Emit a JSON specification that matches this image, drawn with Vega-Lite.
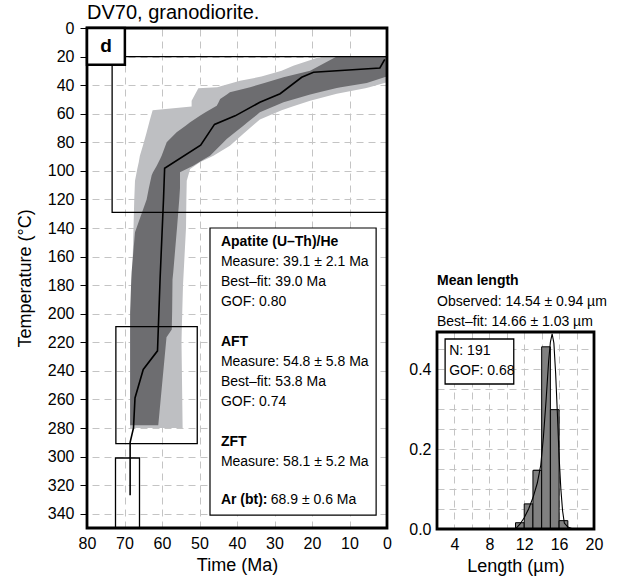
{
  "$schema": "https://vega.github.io/schema/vega-lite/v6.json",
  "padding": {"left": 16, "top": 3, "right": 5, "bottom": 3},
  "bounds": "flush",
  "spacing": 50,
  "config": {
    "font": "Liberation Sans",
    "view": {"stroke": null},
    "axis": {
      "domain": false,
      "labelOverlap": false,
      "labelFlush": false,
      "gridColor": "#c4c4c4",
      "gridDash": [7, 5],
      "gridWidth": 1,
      "labelColor": "black",
      "labelFontSize": 16,
      "titleFontSize": 18,
      "titleFontWeight": "normal",
      "titleColor": "black",
      "tickColor": "black"
    }
  },
  "datasets": {
    "acc": [
      {"T": 20, "L": 15, "R": 0}, {"T": 21, "L": 18.75, "R": 0}, {"T": 26.4, "L": 25, "R": 0},
      {"T": 30, "L": 28.1, "R": 0}, {"T": 34, "L": 33.5, "R": 0}, {"T": 37, "L": 39.2, "R": 0},
      {"T": 38, "L": 40.6, "R": 0}, {"T": 41.5, "L": 45.3, "R": 4.7}, {"T": 42.2, "L": 50.3, "R": 5.8},
      {"T": 46, "L": 51.1, "R": 13.4}, {"T": 51, "L": 52.1, "R": 20.5}, {"T": 55, "L": 52.1, "R": 25.2},
      {"T": 57.5, "L": 62.5, "R": 28.1}, {"T": 64, "L": 63.2, "R": 33.9}, {"T": 74, "L": 64.2, "R": 38.3},
      {"T": 82.4, "L": 65.1, "R": 41.9}, {"T": 89.4, "L": 65.9, "R": 46.3}, {"T": 94, "L": 66.2, "R": 49.9},
      {"T": 98.7, "L": 66.6, "R": 52.5}, {"T": 107, "L": 67.2, "R": 53.4}, {"T": 120, "L": 67.4, "R": 53.5},
      {"T": 140, "L": 67.6, "R": 53.6}, {"T": 180, "L": 68.0, "R": 54.4}, {"T": 208, "L": 68.5, "R": 54.7},
      {"T": 220, "L": 68.5, "R": 54.8}, {"T": 280, "L": 68.5, "R": 54.5}
    ],
    "good": [
      {"T": 20, "L": 13.4, "R": 0}, {"T": 29.9, "L": 20.5, "R": 0}, {"T": 34, "L": 26.8, "R": 0},
      {"T": 34.5, "L": 27.6, "R": 0.7}, {"T": 38.5, "L": 32.7, "R": 5.4}, {"T": 41.5, "L": 36.5, "R": 12.3},
      {"T": 42, "L": 37.3, "R": 13.4}, {"T": 45, "L": 41.9, "R": 18.1}, {"T": 46.5, "L": 42.7, "R": 20.5},
      {"T": 49.7, "L": 44.5, "R": 24.6}, {"T": 52, "L": 44.9, "R": 27.6}, {"T": 54.4, "L": 45.4, "R": 29.8},
      {"T": 59, "L": 48.4, "R": 33.9}, {"T": 61.4, "L": 49.9, "R": 35.0}, {"T": 66, "L": 52.5, "R": 37.2},
      {"T": 68.4, "L": 53.7, "R": 38.3}, {"T": 73, "L": 56.1, "R": 40.5}, {"T": 77.7, "L": 57.9, "R": 42.75},
      {"T": 80, "L": 58.75, "R": 43.6}, {"T": 89.4, "L": 60.1, "R": 47.2}, {"T": 91.7, "L": 60.5, "R": 48.7},
      {"T": 96.4, "L": 61.4, "R": 51.7}, {"T": 101, "L": 62.4, "R": 55.2}, {"T": 103, "L": 62.75, "R": 55.2},
      {"T": 112, "L": 63.5, "R": 55.2}, {"T": 120, "L": 64.1, "R": 55.4}, {"T": 140, "L": 66.8, "R": 56},
      {"T": 143, "L": 67.2, "R": 56.1}, {"T": 171, "L": 68.1, "R": 57.0}, {"T": 176, "L": 68.2, "R": 57.2},
      {"T": 199, "L": 68.5, "R": 57.3}, {"T": 211, "L": 68.5, "R": 57.4}, {"T": 216.5, "L": 68.5, "R": 58.8},
      {"T": 250, "L": 68.5, "R": 60}, {"T": 278, "L": 68.5, "R": 61}
    ],
    "best": [
      {"i": 1, "t": 0.6, "T": 22}, {"i": 2, "t": 1.9, "T": 28}, {"i": 3, "t": 19.6, "T": 31},
      {"i": 4, "t": 22.75, "T": 34.5}, {"i": 5, "t": 28.5, "T": 46}, {"i": 6, "t": 33.9, "T": 52},
      {"i": 7, "t": 40.5, "T": 61.5}, {"i": 8, "t": 46, "T": 67.5}, {"i": 9, "t": 49.7, "T": 82},
      {"i": 10, "t": 59.3, "T": 98.2}, {"i": 11, "t": 59.6, "T": 120}, {"i": 12, "t": 60.5, "T": 175},
      {"i": 13, "t": 61.2, "T": 226}, {"i": 14, "t": 65, "T": 239}, {"i": 15, "t": 67.2, "T": 259},
      {"i": 16, "t": 67.6, "T": 280}, {"i": 17, "t": 68.5, "T": 290}, {"i": 18, "t": 68.5, "T": 327}
    ],
    "boxes": [
      {"name": "t-T box", "x0": 73.3, "x1": 0, "y0": 20, "y1": 129},
      {"name": "AFT box", "x0": 72.3, "x1": 50.6, "y0": 209, "y1": 291},
      {"name": "ZFT box", "x0": 72.4, "x1": 66.0, "y0": 301, "y1": 350}
    ],
    "panelbox": [
      {"name": "legend", "x0": 47.2, "x1": 2.9, "y0": 140, "y1": 341, "sw": 1.2},
      {"name": "label", "x0": 80, "x1": 69.9, "y0": 0, "y1": 25.7, "sw": 2.5}
    ],
    "frameL": [
      {"x0": 80, "x1": 0, "y0": 0, "y1": 350}
    ],
    "txt": [
      {"w": "b", "x": 44.3, "T": 150, "s": "Apatite (U–Th)/He"},
      {"w": "n", "x": 44.3, "T": 164, "s": "Measure: 39.1 ± 2.1 Ma"},
      {"w": "n", "x": 44.3, "T": 178, "s": "Best–fit: 39.0 Ma"},
      {"w": "n", "x": 44.3, "T": 192, "s": "GOF: 0.80"},
      {"w": "b", "x": 44.3, "T": 220, "s": "AFT"},
      {"w": "n", "x": 44.3, "T": 234, "s": "Measure: 54.8 ± 5.8 Ma"},
      {"w": "n", "x": 44.3, "T": 248, "s": "Best–fit: 53.8 Ma"},
      {"w": "n", "x": 44.3, "T": 262, "s": "GOF: 0.74"},
      {"w": "b", "x": 44.3, "T": 290, "s": "ZFT"},
      {"w": "n", "x": 44.3, "T": 304, "s": "Measure: 58.1 ± 5.2 Ma"},
      {"w": "b", "x": 44.3, "T": 330.5, "s": "Ar (bt):"},
      {"w": "n", "x": 31.0, "T": 330.5, "s": "68.9 ± 0.6 Ma"}
    ],
    "hist": [
      {"lo": 11, "hi": 12, "d": 0.0157}, {"lo": 12, "hi": 13, "d": 0.0628},
      {"lo": 13, "hi": 14, "d": 0.1466}, {"lo": 14, "hi": 15, "d": 0.4555},
      {"lo": 15, "hi": 16, "d": 0.2984}, {"lo": 16, "hi": 17, "d": 0.0209}
    ],
    "pdf": [
      {"L": 11.0, "p": 0}, {"L": 11.5, "p": 0.012}, {"L": 12.0, "p": 0.028}, {"L": 12.5, "p": 0.05},
      {"L": 13.0, "p": 0.078}, {"L": 13.5, "p": 0.115}, {"L": 13.9, "p": 0.16}, {"L": 14.2, "p": 0.23},
      {"L": 14.5, "p": 0.32}, {"L": 14.8, "p": 0.42}, {"L": 15.0, "p": 0.467}, {"L": 15.2, "p": 0.488},
      {"L": 15.4, "p": 0.465}, {"L": 15.6, "p": 0.39}, {"L": 15.8, "p": 0.29}, {"L": 16.0, "p": 0.18},
      {"L": 16.2, "p": 0.1}, {"L": 16.4, "p": 0.045}, {"L": 16.6, "p": 0.015}, {"L": 17.0, "p": 0.005},
      {"L": 17.6, "p": 0}
    ],
    "stats": [
      {"x0": 2.93, "x1": 10.8, "y0": 0.3625, "y1": 0.475}
    ],
    "frameR": [
      {"x0": 2, "x1": 20, "y0": 0, "y1": 0.4925}
    ],
    "stattxt": [
      {"x": 3.4, "y": 0.444, "s": "N: 191"},
      {"x": 3.4, "y": 0.395, "s": "GOF: 0.68"}
    ]
  },
  "hconcat": [
    {
      "width": 300,
      "height": 500,
      "title": {"text": "DV70, granodiorite.", "anchor": "start", "frame": "group", "fontSize": 20, "fontWeight": "normal", "color": "black", "offset": -3},
      "layer": [
        {
          "data": {"name": "acc"},
          "mark": {"type": "area", "orient": "horizontal", "color": "#bebfc2"},
          "encoding": {
            "y": {"field": "T", "type": "quantitative",
                  "scale": {"domain": [0, 350], "reverse": true, "nice": false, "zero": false},
                  "axis": {"title": "Temperature (°C)", "format": "d", "values": [0,20,40,60,80,100,120,140,160,180,200,220,240,260,280,300,320,340], "tickCount": 100, "labelOverlap": false, "tickSize": 7, "labelPadding": 6, "titlePadding": 13, "grid": true}},
            "x": {"field": "L", "type": "quantitative",
                  "scale": {"domain": [0, 80], "reverse": true, "nice": false, "zero": false},
                  "axis": {"title": "Time (Ma)", "format": "d", "values": [0,10,20,30,40,50,60,70,80], "tickCount": 100, "labelOverlap": false, "labelFlush": false, "ticks": false, "labelPadding": 7, "titlePadding": 5, "grid": true}},
            "x2": {"field": "R"}
          }
        },
        {
          "data": {"name": "good"},
          "mark": {"type": "area", "orient": "horizontal", "color": "#6d6d70"},
          "encoding": {
            "y": {"field": "T", "type": "quantitative"},
            "x": {"field": "L", "type": "quantitative"},
            "x2": {"field": "R"}
          }
        },
        {
          "data": {"name": "best"},
          "mark": {"type": "line", "color": "black", "strokeWidth": 1.6},
          "encoding": {
            "x": {"field": "t", "type": "quantitative"},
            "y": {"field": "T", "type": "quantitative"},
            "order": {"field": "i"}
          }
        },
        {
          "data": {"name": "boxes"},
          "mark": {"type": "rect", "fill": null, "stroke": "black", "strokeWidth": 1.3},
          "encoding": {
            "x": {"field": "x0", "type": "quantitative"},
            "x2": {"field": "x1"},
            "y": {"field": "y0", "type": "quantitative"},
            "y2": {"field": "y1"}
          }
        },
        {
          "data": {"name": "frameL"},
          "mark": {"type": "rect", "fill": null, "stroke": "black", "strokeWidth": 2.8},
          "encoding": {
            "x": {"field": "x0", "type": "quantitative"},
            "x2": {"field": "x1"},
            "y": {"field": "y0", "type": "quantitative"},
            "y2": {"field": "y1"}
          }
        },
        {
          "data": {"name": "panelbox"},
          "mark": {"type": "rect", "fill": "white", "stroke": "black"},
          "encoding": {
            "x": {"field": "x0", "type": "quantitative"},
            "x2": {"field": "x1"},
            "y": {"field": "y0", "type": "quantitative"},
            "y2": {"field": "y1"},
            "strokeWidth": {"field": "sw", "type": "quantitative", "scale": null}
          }
        },
        {
          "data": {"name": "txt"},
          "transform": [{"filter": "datum.w == 'n'"}],
          "mark": {"type": "text", "align": "left", "baseline": "middle", "fontSize": 14, "color": "black"},
          "encoding": {
            "x": {"field": "x", "type": "quantitative"},
            "y": {"field": "T", "type": "quantitative"},
            "text": {"field": "s"}
          }
        },
        {
          "data": {"name": "txt"},
          "transform": [{"filter": "datum.w == 'b'"}],
          "mark": {"type": "text", "align": "left", "baseline": "middle", "fontSize": 14, "fontWeight": "bold", "color": "black"},
          "encoding": {
            "x": {"field": "x", "type": "quantitative"},
            "y": {"field": "T", "type": "quantitative"},
            "text": {"field": "s"}
          }
        },
        {
          "data": {"values": [{"x": 74.95, "T": 12.8, "s": "d"}]},
          "mark": {"type": "text", "align": "center", "baseline": "middle", "fontSize": 19, "fontWeight": "bold", "color": "black"},
          "encoding": {
            "x": {"field": "x", "type": "quantitative"},
            "y": {"field": "T", "type": "quantitative"},
            "text": {"field": "s"}
          }
        }
      ]
    },
    {
      "bounds": "flush",
      "spacing": 20,
      "vconcat": [
        {
          "width": 157,
          "height": 284,
          "data": {"values": []},
          "mark": "point",
          "encoding": {}
        },
        {
          "width": 157,
          "height": 197,
          "title": {"text": "Mean length", "subtitle": ["Observed: 14.54 ± 0.94 µm", "Best–fit: 14.66 ± 1.03 µm"], "anchor": "start", "frame": "group", "fontSize": 14, "fontWeight": "bold", "color": "black", "subtitleFontSize": 14, "subtitleColor": "black", "subtitlePadding": 7, "subtitleLineHeight": 20, "offset": 2},
          "layer": [
            {
              "data": {"name": "hist"},
              "mark": {"type": "rect", "fill": "#808080", "stroke": "black", "strokeWidth": 1},
              "encoding": {
                "x": {"field": "lo", "type": "quantitative",
                      "scale": {"domain": [2, 20], "nice": false, "zero": false},
                      "axis": {"title": "Length (µm)", "values": [4,6,8,10,12,14,16,18,20], "tickCount": 100, "labelOverlap": false, "labelFlush": false, "labelExpr": "datum.value % 4 == 0 ? format(datum.value, 'd') : ''", "ticks": false, "labelPadding": 7, "titlePadding": 5, "grid": true}},
                "x2": {"field": "hi"},
                "y": {"field": "d", "type": "quantitative",
                      "scale": {"domain": [0, 0.4925], "nice": false},
                      "axis": {"title": null, "values": [0,0.05,0.1,0.15,0.2,0.25,0.3,0.35,0.4,0.45], "tickCount": 100, "labelOverlap": false, "labelFlush": false, "labelExpr": "round(datum.value*100) % 20 == 0 ? format(datum.value, '.1f') : ''", "ticks": false, "labelPadding": 6, "grid": true}},
                "y2": {"datum": 0}
              }
            },
            {
              "data": {"name": "pdf"},
              "mark": {"type": "line", "color": "black", "strokeWidth": 1.1},
              "encoding": {
                "x": {"field": "L", "type": "quantitative"},
                "y": {"field": "p", "type": "quantitative"}
              }
            },
            {
              "data": {"name": "stats"},
              "mark": {"type": "rect", "fill": "white", "stroke": "black", "strokeWidth": 1.3},
              "encoding": {
                "x": {"field": "x0", "type": "quantitative"},
                "x2": {"field": "x1"},
                "y": {"field": "y0", "type": "quantitative"},
                "y2": {"field": "y1"}
              }
            },
            {
              "data": {"name": "frameR"},
              "mark": {"type": "rect", "fill": null, "stroke": "black", "strokeWidth": 2.8},
              "encoding": {
                "x": {"field": "x0", "type": "quantitative"},
                "x2": {"field": "x1"},
                "y": {"field": "y0", "type": "quantitative"},
                "y2": {"field": "y1"}
              }
            },
            {
              "data": {"name": "stattxt"},
              "mark": {"type": "text", "align": "left", "baseline": "middle", "fontSize": 14, "color": "black"},
              "encoding": {
                "x": {"field": "x", "type": "quantitative"},
                "y": {"field": "y", "type": "quantitative"},
                "text": {"field": "s"}
              }
            }
          ]
        }
      ]
    }
  ]
}
